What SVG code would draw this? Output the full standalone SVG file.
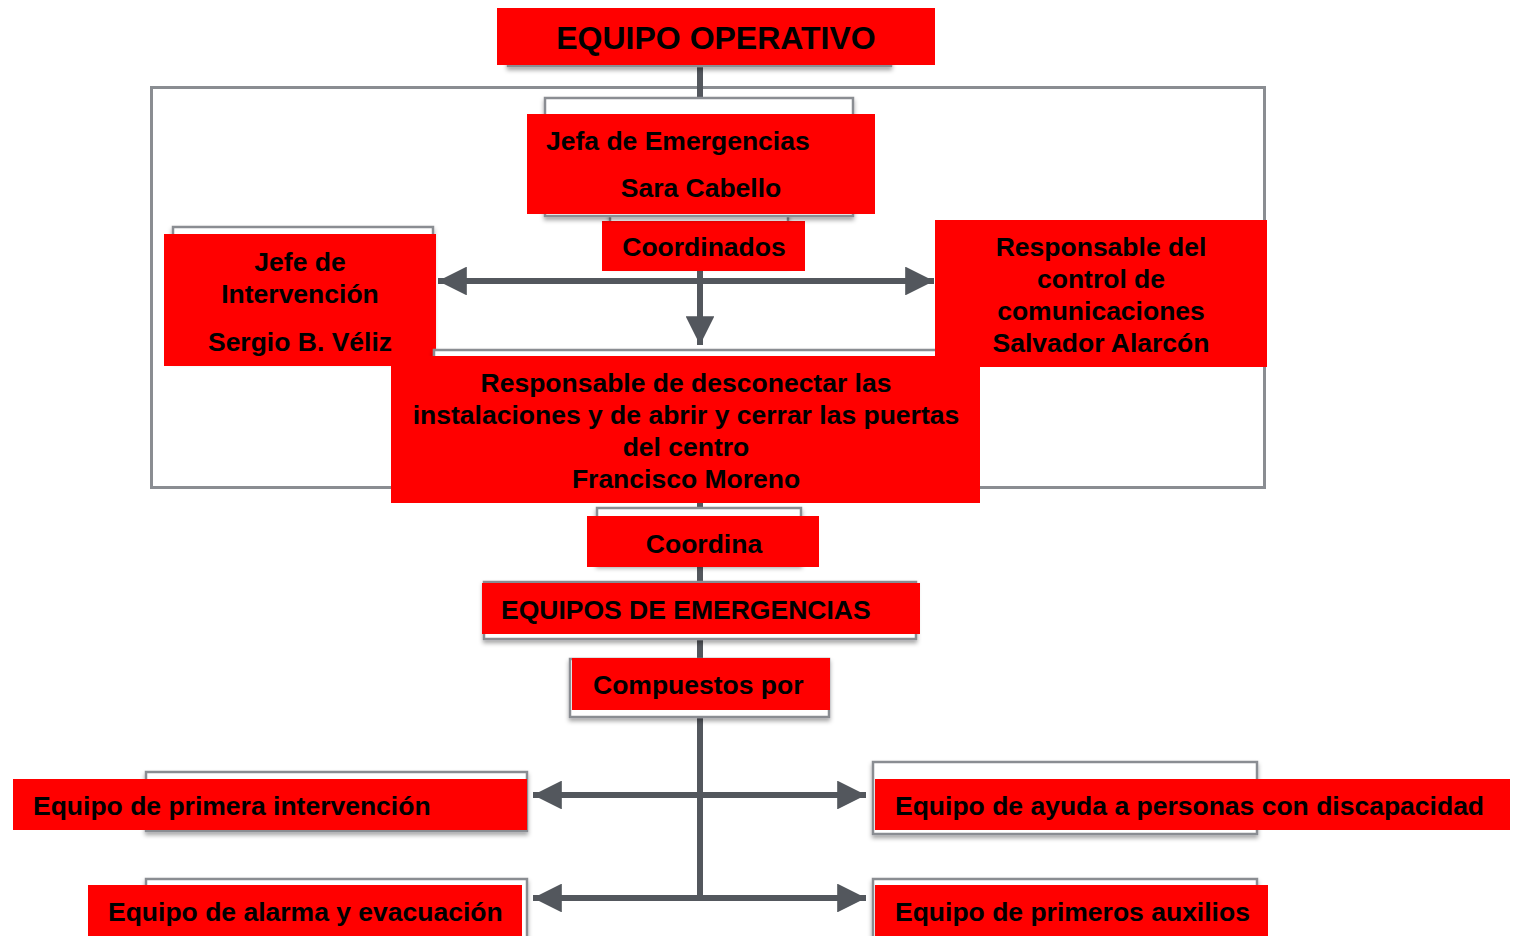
<svg xmlns="http://www.w3.org/2000/svg" width="1514" height="936" viewBox="0 0 1514 936">
<defs>
<filter id="sh" x="-5%" y="-10%" width="110%" height="130%">
<feDropShadow dx="0" dy="3" stdDeviation="2" flood-color="#000" flood-opacity="0.35"/>
</filter>
<marker id="ah" viewBox="0 0 10 10" refX="10" refY="5" markerWidth="4.8" markerHeight="4.8" markerUnits="strokeWidth" orient="auto-start-reverse">
<path d="M0,0 L10,5 L0,10 Z" fill="#53575d"/>
</marker>
<style>
.bg{fill:#fff;stroke:#8a8d92;stroke-width:2.5;filter:url(#sh)}
.red{fill:#ff0000}
.t{font-family:"Liberation Sans",Arial,sans-serif;font-weight:bold;font-size:26.5px;fill:#000}
.c{text-anchor:middle}
.ln{stroke:#53575d;stroke-width:6;fill:none}
</style>
</defs>
<rect width="1514" height="936" fill="#fff"/>
<rect x="151.5" y="87.5" width="1113" height="400" fill="none" stroke="#8a8d92" stroke-width="3"/>

<g id="connectors">
<line class="ln" x1="700" y1="66" x2="700" y2="98"/>
<line class="ln" x1="700" y1="270" x2="700" y2="345" marker-end="url(#ah)"/>
<line class="ln" x1="438" y1="281" x2="934" y2="281" marker-start="url(#ah)" marker-end="url(#ah)"/>
<line class="ln" x1="700" y1="500" x2="700" y2="518"/>
<line class="ln" x1="700" y1="566" x2="700" y2="584"/>
<line class="ln" x1="700" y1="638" x2="700" y2="660"/>
<line class="ln" x1="700" y1="716" x2="700" y2="898"/>
<line class="ln" x1="533" y1="795" x2="866" y2="795" marker-start="url(#ah)" marker-end="url(#ah)"/>
<line class="ln" x1="533" y1="898" x2="866" y2="898" marker-start="url(#ah)" marker-end="url(#ah)"/>
</g>

<g id="equipo-operativo">
<rect class="bg" x="508" y="14" width="383" height="52"/>
<rect class="red" x="497" y="8" width="438" height="57"/>
<text class="t" x="716" y="49" text-anchor="middle" style="font-size:32px">EQUIPO OPERATIVO</text>
</g>

<g id="coordinados">
<rect class="bg" x="610" y="200" width="178" height="64"/>
<rect class="red" x="602" y="221" width="203" height="50"/>
<text class="t c" x="704" y="256">Coordinados</text>
</g>

<g id="jefa-emergencias">
<rect class="bg" x="545" y="98" width="308" height="118"/>
<rect class="red" x="527" y="114" width="348" height="100"/>
<text class="t" x="546" y="150">Jefa de Emergencias</text>
<text class="t c" x="701" y="197">Sara Cabello</text>
</g>

<g id="jefe-intervencion">
<rect class="bg" x="173" y="227" width="260" height="132"/>
<rect class="red" x="164" y="234" width="272" height="132"/>
<text class="t c" x="300" y="271">Jefe de</text>
<text class="t c" x="300" y="303">Intervención</text>
<text class="t c" x="300" y="351">Sergio B. Véliz</text>
</g>

<g id="responsable-desconectar">
<rect class="bg" x="434" y="350" width="506" height="140"/>
<rect class="red" x="391" y="356" width="589" height="147"/>
<text class="t c" x="686" y="392">Responsable de desconectar las</text>
<text class="t c" x="686" y="424">instalaciones y de abrir y cerrar las puertas</text>
<text class="t c" x="686" y="456">del centro</text>
<text class="t c" x="686" y="488">Francisco Moreno</text>
</g>

<g id="responsable-comunicaciones">
<rect class="red" x="935" y="220" width="332" height="147"/>
<text class="t c" x="1101" y="256">Responsable del</text>
<text class="t c" x="1101" y="288">control de</text>
<text class="t c" x="1101" y="320">comunicaciones</text>
<text class="t c" x="1101" y="352">Salvador Alarcón</text>
</g>

<g id="coordina">
<rect class="bg" x="597" y="508" width="204" height="56"/>
<rect class="red" x="587" y="516" width="232" height="51"/>
<text class="t c" x="704" y="553">Coordina</text>
</g>

<g id="equipos-emergencias">
<rect class="bg" x="484" y="582" width="432" height="57"/>
<rect class="red" x="482" y="583" width="438" height="51"/>
<text class="t" x="501" y="619">EQUIPOS DE EMERGENCIAS</text>
</g>

<g id="compuestos-por">
<rect class="bg" x="570" y="659" width="259" height="58"/>
<rect class="red" x="572" y="658" width="258" height="52"/>
<text class="t" x="593" y="694">Compuestos por</text>
</g>

<g id="primera-intervencion">
<rect class="bg" x="146" y="772" width="381" height="59"/>
<rect class="red" x="13" y="779" width="514" height="51"/>
<text class="t" x="33" y="815">Equipo de primera intervención</text>
</g>

<g id="alarma-evacuacion">
<rect class="bg" x="146" y="879" width="381" height="62"/>
<rect class="red" x="88" y="885" width="434" height="51"/>
<text class="t" x="108" y="921">Equipo de alarma y evacuación</text>
</g>

<g id="ayuda-discapacidad">
<rect class="bg" x="873" y="762" width="384" height="72"/>
<rect class="red" x="875" y="779" width="635" height="51"/>
<text class="t" x="895" y="815">Equipo de ayuda a personas con discapacidad</text>
</g>

<g id="primeros-auxilios">
<rect class="bg" x="873" y="879" width="384" height="62"/>
<rect class="red" x="875" y="885" width="393" height="51"/>
<text class="t" x="895" y="921">Equipo de primeros auxilios</text>
</g>
</svg>
